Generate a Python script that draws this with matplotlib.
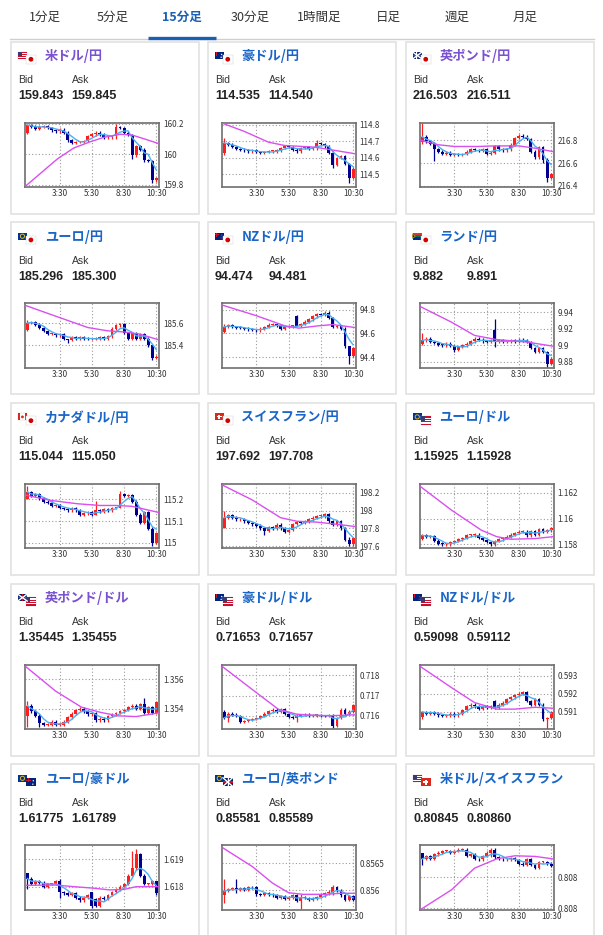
import numpy as np
import pandas as pd
import matplotlib
matplotlib.use('Agg')
import matplotlib.pyplot as plt
from matplotlib.patches import Rectangle, Circle, Polygon

plt.rcParams['font.family'] = ['Noto Sans CJK JP', 'DejaVu Sans']

W, H = 603, 935

# ---- tabs ----
tabs = ['1分足', '5分足', '15分足', '30分足', '1時間足', '日足', '週足', '月足']
tab_x = [44.5, 113, 182, 250, 319, 388, 457, 525]
active_tab = 2

# ---- pairs ----
pair_names = ['米ドル/円', '豪ドル/円', '英ポンド/円',
              'ユーロ/円', 'NZドル/円', 'ランド/円',
              'カナダドル/円', 'スイスフラン/円', 'ユーロ/ドル',
              '英ポンド/ドル', '豪ドル/ドル', 'NZドル/ドル',
              'ユーロ/豪ドル', 'ユーロ/英ポンド', '米ドル/スイスフラン']
bid_text = ['159.843', '114.535', '216.503', '185.296', '94.474', '9.882',
            '115.044', '197.692', '1.15925', '1.35445', '0.71653', '0.59098',
            '1.61775', '0.85581', '0.80845']
ask_text = ['159.845', '114.540', '216.511', '185.300', '94.481', '9.891',
            '115.050', '197.708', '1.15928', '1.35455', '0.71657', '0.59112',
            '1.61789', '0.85589', '0.80860']
visited = [True, False, True, False, False, False, False, False, False,
           True, False, False, False, False, False]
flag_codes = [('us', 'jp'), ('au', 'jp'), ('gb', 'jp'), ('eu', 'jp'), ('nz', 'jp'),
              ('za', 'jp'), ('ca', 'jp'), ('ch', 'jp'), ('eu', 'us'), ('gb', 'us'),
              ('au', 'us'), ('nz', 'us'), ('eu', 'au'), ('eu', 'gb'), ('us', 'ch')]

time_labels = ['3:30', '5:30', '8:30', '10:30']
time_pos = [8, 16, 24, 32]

# ---- 15 min closes ----
usdjpy_close = [160.19, 160.18, 160.165, 160.18, 160.185, 160.17, 160.155, 160.15, 160.16, 160.14,
                160.09, 160.075, 160.08, 160.08, 160.085, 160.12, 160.13, 160.14, 160.13, 160.11,
                160.11, 160.12, 160.175, 160.17, 160.14, 160.125, 159.995, 160.05, 160.03, 159.96,
                159.955, 159.83, 159.843]
usdjpy_open0 = 160.14
usdjpy_hl = {0: (160.13, 160.2), 22: (160.1, 160.2), 26: (159.97, 160.13), 27: (159.98, 160.06),
             31: (159.81, 159.96), 32: (159.815, 159.85)}
usdjpy_ma_x = [-0.5, 3.5, 7.5, 11.5, 15.5, 19, 23, 26, 29, 32.5]
usdjpy_ma_y = [159.79, 159.88, 159.97, 160.04, 160.08, 160.11, 160.13, 160.125, 160.10, 160.07]
usdjpy_ticks = [159.8, 160.0, 160.2]

audjpy_close = [114.69, 114.68, 114.665, 114.655, 114.65, 114.645, 114.64, 114.645, 114.635, 114.63,
                114.635, 114.64, 114.64, 114.645, 114.66, 114.67, 114.665, 114.65, 114.64, 114.66,
                114.665, 114.655, 114.66, 114.69, 114.685, 114.67, 114.63, 114.56, 114.6, 114.61,
                114.565, 114.48, 114.535]
audjpy_open0 = 114.63
audjpy_hl = {0: (114.62, 114.72), 23: (114.65, 114.71), 27: (114.54, 114.64), 31: (114.45, 114.57)}
audjpy_ma_x = [-0.5, 5, 11, 15, 22.5, 26.3, 32.5]
audjpy_ma_y = [114.81, 114.76, 114.695, 114.675, 114.665, 114.65, 114.625]
audjpy_ticks = [114.5, 114.6, 114.7, 114.8]

gbpjpy_close = [216.83, 216.79, 216.77, 216.72, 216.70, 216.68, 216.69, 216.67, 216.675, 216.67,
                216.68, 216.70, 216.72, 216.715, 216.705, 216.72, 216.68, 216.69, 216.75, 216.72,
                216.71, 216.72, 216.76, 216.82, 216.84, 216.83, 216.81, 216.70, 216.65, 216.74,
                216.63, 216.47, 216.503]
gbpjpy_open0 = 216.78
gbpjpy_hl = {0: (216.77, 216.95), 3: (216.62, 216.78), 30: (216.6, 216.75), 31: (216.43, 216.64)}
gbpjpy_ma_x = [-0.5, 4, 8, 14, 18, 24, 28, 32.5]
gbpjpy_ma_y = [216.8, 216.76, 216.745, 216.745, 216.75, 216.75, 216.73, 216.7]
gbpjpy_ticks = [216.4, 216.6, 216.8]

eurjpy_close = [185.6, 185.61, 185.585, 185.56, 185.53, 185.5, 185.5, 185.49, 185.5, 185.46,
                185.45, 185.47, 185.46, 185.47, 185.46, 185.455, 185.455, 185.46, 185.47, 185.46,
                185.48, 185.55, 185.58, 185.59, 185.51, 185.46, 185.51, 185.46, 185.5, 185.46,
                185.40, 185.285, 185.296]
eurjpy_open0 = 185.54
eurjpy_hl = {0: (185.53, 185.63), 10: (185.42, 185.46), 31: (185.27, 185.4)}
eurjpy_ma_x = [-0.5, 8, 15, 20, 24, 28, 32.5]
eurjpy_ma_y = [185.76, 185.65, 185.56, 185.53, 185.52, 185.5, 185.45]
eurjpy_ticks = [185.4, 185.6]

nzdjpy_close = [94.655, 94.67, 94.655, 94.65, 94.645, 94.64, 94.635, 94.63, 94.625, 94.64,
                94.655, 94.675, 94.68, 94.665, 94.64, 94.655, 94.66, 94.66, 94.665, 94.68,
                94.7, 94.72, 94.745, 94.765, 94.76, 94.775, 94.73, 94.655, 94.66, 94.64,
                94.49, 94.41, 94.474]
nzdjpy_open0 = 94.61
nzdjpy_open_fix = {18: 94.75}
nzdjpy_hl = {0: (94.6, 94.68), 18: (94.66, 94.76), 31: (94.34, 94.49)}
nzdjpy_ma_x = [-0.5, 8, 15, 18.5, 23.5, 27, 32.5]
nzdjpy_ma_y = [94.84, 94.75, 94.665, 94.645, 94.665, 94.675, 94.65]
nzdjpy_ticks = [94.4, 94.6, 94.8]

zarjpy_close = [9.906, 9.908, 9.904, 9.903, 9.901, 9.9, 9.902, 9.899, 9.895, 9.898,
                9.9, 9.902, 9.905, 9.908, 9.907, 9.905, 9.904, 9.906, 9.904, 9.906,
                9.904, 9.905, 9.906, 9.905, 9.907, 9.906, 9.904, 9.897, 9.892, 9.897,
                9.892, 9.878, 9.884]
zarjpy_open0 = 9.902
zarjpy_open_fix = {18: 9.918}
zarjpy_hl = {0: (9.9, 9.915), 8: (9.892, 9.9), 18: (9.898, 9.932), 31: (9.874, 9.893)}
zarjpy_ma_x = [-0.5, 7.3, 13, 18.5, 26, 32.5]
zarjpy_ma_y = [9.947, 9.928, 9.912, 9.907, 9.904, 9.899]
zarjpy_ticks = [9.88, 9.9, 9.92, 9.94]

cadjpy_close = [115.235, 115.215, 115.225, 115.205, 115.19, 115.185, 115.17, 115.175, 115.16, 115.155,
                115.15, 115.16, 115.15, 115.13, 115.135, 115.14, 115.13, 115.15, 115.145, 115.155,
                115.15, 115.16, 115.16, 115.225, 115.215, 115.22, 115.19, 115.13, 115.09, 115.14,
                115.065, 115.0, 115.044]
cadjpy_open0 = 115.2
cadjpy_hl = {0: (115.2, 115.26), 17: (115.13, 115.195), 23: (115.16, 115.24), 31: (114.985, 115.07)}
cadjpy_ma_x = [-0.5, 6, 12.4, 18, 22, 26, 32.5]
cadjpy_ma_y = [115.22, 115.195, 115.18, 115.172, 115.172, 115.168, 115.14]
cadjpy_ticks = [115.0, 115.1, 115.2]

chfjpy_close = [197.92, 197.95, 197.92, 197.9, 197.905, 197.88, 197.86, 197.845, 197.83, 197.8,
                197.77, 197.81, 197.8, 197.84, 197.8, 197.76, 197.78, 197.85, 197.87, 197.86,
                197.88, 197.9, 197.92, 197.935, 197.935, 197.96, 197.88, 197.84, 197.88, 197.80,
                197.67, 197.62, 197.692]
chfjpy_open0 = 197.8
chfjpy_hl = {0: (197.8, 198.0), 10: (197.72, 197.8), 31: (197.6, 197.7)}
chfjpy_ma_x = [-0.5, 7, 14, 18, 23, 29, 32.5]
chfjpy_ma_y = [198.29, 198.12, 197.92, 197.88, 197.87, 197.84, 197.82]
chfjpy_ticks = [197.6, 197.8, 198.0, 198.2]

eurusd_close = [1.1587, 1.1586, 1.15865, 1.1583, 1.15805, 1.158, 1.158, 1.1582, 1.15825, 1.1584,
                1.1585, 1.1587, 1.1587, 1.15875, 1.1585, 1.15835, 1.1582, 1.158, 1.15825, 1.1584,
                1.1585, 1.1586, 1.15875, 1.1589, 1.159, 1.159, 1.1587, 1.15905, 1.15875, 1.1592,
                1.159, 1.1591, 1.15925]
eurusd_open0 = 1.15845
eurusd_hl = {17: (1.15785, 1.1583)}
eurusd_ma_x = [-0.5, 7.3, 14.7, 18.5, 22, 28, 32.5]
eurusd_ma_y = [1.1625, 1.16065, 1.1591, 1.1586, 1.1584, 1.15845, 1.1586]
eurusd_ticks = [1.158, 1.16, 1.162]

gbpusd_close = [1.3542, 1.3538, 1.3535, 1.3530, 1.3529, 1.3529, 1.3531, 1.3529, 1.3529, 1.3531,
                1.3534, 1.35365, 1.3539, 1.354, 1.3538, 1.3536, 1.3537, 1.3532, 1.3533, 1.3532,
                1.3535, 1.3536, 1.3537, 1.3538, 1.3539, 1.3541, 1.3542, 1.3540, 1.3543, 1.3537,
                1.3541, 1.3537, 1.35445]
gbpusd_open0 = 1.3535
gbpusd_hl = {0: (1.3527, 1.3545), 3: (1.35275, 1.3536), 29: (1.3536, 1.3547)}
gbpusd_ma_x = [-0.5, 7, 13.4, 18, 22.5, 27, 32.5]
gbpusd_ma_y = [1.3569, 1.3552, 1.3541, 1.35375, 1.3535, 1.35345, 1.3537]
gbpusd_ticks = [1.354, 1.356]

audusd_close = [0.7159, 0.7161, 0.71605, 0.716, 0.7157, 0.71575, 0.7158, 0.71585, 0.7159, 0.71598,
                0.7161, 0.71622, 0.7163, 0.7162, 0.71632, 0.7161, 0.71595, 0.7159, 0.71598, 0.71603,
                0.71605, 0.71598, 0.71602, 0.71604, 0.716, 0.71598, 0.71604, 0.7155, 0.7159, 0.7163,
                0.71608, 0.7162, 0.71653]
audusd_open0 = 0.7162
audusd_hl = {1: (0.7157, 0.7162), 18: (0.7157, 0.7161), 27: (0.7154, 0.7161)}
audusd_ma_x = [-0.5, 7, 13.4, 18, 22, 26, 32.5]
audusd_ma_y = [0.71845, 0.7173, 0.71633, 0.71608, 0.71603, 0.716, 0.71605]
audusd_ticks = [0.716, 0.717, 0.718]

nzdusd_close = [0.5910, 0.5909, 0.5910, 0.5909, 0.5908, 0.59078, 0.5908, 0.5909, 0.5908, 0.5909,
                0.5911, 0.5913, 0.5914, 0.5913, 0.59118, 0.5913, 0.5912, 0.5913, 0.5912, 0.5914,
                0.5915, 0.5917, 0.5918, 0.5919, 0.5920, 0.5921, 0.5916, 0.5914, 0.5917, 0.5914,
                0.5906, 0.59065, 0.59098]
nzdusd_open0 = 0.5907
nzdusd_open_fix = {18: 0.5916, 31: 0.5906}
nzdusd_hl = {30: (0.5905, 0.5915), 31: (0.59005, 0.5907)}
nzdusd_ma_x = [-0.5, 7.3, 13, 18.5, 23, 28, 32.5]
nzdusd_ma_y = [0.5935, 0.59233, 0.59151, 0.59115, 0.59115, 0.59125, 0.5912]
nzdusd_ticks = [0.591, 0.592, 0.593]

euraud_close = [1.6183, 1.6181, 1.6182, 1.61815, 1.6180, 1.6181, 1.6181, 1.6182, 1.6178, 1.61775,
                1.6177, 1.61775, 1.6176, 1.6175, 1.6176, 1.6177, 1.6173, 1.6173, 1.6176, 1.61755,
                1.6177, 1.6178, 1.6179, 1.618, 1.6181, 1.6184, 1.6187, 1.6192, 1.6184, 1.6181,
                1.6181, 1.6182, 1.61775]
euraud_open0 = 1.6185
euraud_open_fix = {16: 1.6178, 17: 1.61755}
euraud_hl = {0: (1.6179, 1.6185), 8: (1.6176, 1.6183), 16: (1.6172, 1.6178),
             26: (1.6184, 1.6193), 27: (1.6186, 1.6194), 32: (1.6177, 1.6182)}
euraud_ma_x = [-0.5, 7, 11.5, 16, 20.5, 24, 27, 32.5]
euraud_ma_y = [1.61805, 1.61806, 1.618, 1.61795, 1.61788, 1.6179, 1.618, 1.618]
euraud_ticks = [1.618, 1.619]

eurgbp_close = [0.85598, 0.85602, 0.85603, 0.856, 0.85603, 0.85601, 0.85606, 0.85605, 0.85592, 0.85591,
                0.85594, 0.85592, 0.8559, 0.85586, 0.85588, 0.85584, 0.85586, 0.8559, 0.8558, 0.85587,
                0.85585, 0.85581, 0.85584, 0.85587, 0.8559, 0.85594, 0.85597, 0.85606, 0.85599, 0.8559,
                0.85582, 0.85588, 0.85581]
eurgbp_open0 = 0.8559
eurgbp_hl = {0: (0.85575, 0.8562), 3: (0.85595, 0.8562), 19: (0.85565, 0.85592), 27: (0.8559, 0.8561)}
eurgbp_ma_x = [-0.5, 7, 12, 16, 19.6, 25, 29, 32.5]
eurgbp_ma_y = [0.8568, 0.85644, 0.85613, 0.85595, 0.85592, 0.85592, 0.85594, 0.85594]
eurgbp_ticks = [0.856, 0.8565]

usdchf_close = [0.8086, 0.8087, 0.8086, 0.80875, 0.8088, 0.80885, 0.80885, 0.8088, 0.80885, 0.8089,
                0.8089, 0.8087, 0.80875, 0.8086, 0.80858, 0.8087, 0.8088, 0.8089, 0.80865, 0.8086,
                0.80858, 0.80858, 0.80862, 0.80857, 0.80845, 0.8084, 0.8086, 0.8084, 0.80832, 0.8085,
                0.8085, 0.80845, 0.80838]
usdchf_open0 = 0.8088
usdchf_hl = {0: (0.8084, 0.8088), 17: (0.80865, 0.80895)}
usdchf_ma_x = [-0.5, 7.3, 13, 18.5, 23, 28, 32.5]
usdchf_ma_y = [0.80695, 0.8076, 0.8083, 0.8086, 0.8087, 0.80868, 0.8086]
usdchf_ticks = [0.807, 0.808]
usdchf_tick_text = ['0.808', '0.808']

charts = [
    dict(c=usdjpy_close, o0=usdjpy_open0, hl=usdjpy_hl, mx=usdjpy_ma_x, my=usdjpy_ma_y,
         t=usdjpy_ticks, ylim=(159.785, 160.207)),
    dict(c=audjpy_close, o0=audjpy_open0, hl=audjpy_hl, mx=audjpy_ma_x, my=audjpy_ma_y,
         t=audjpy_ticks, ylim=(114.424, 114.814)),
    dict(c=gbpjpy_close, o0=gbpjpy_open0, hl=gbpjpy_hl, mx=gbpjpy_ma_x, my=gbpjpy_ma_y,
         t=gbpjpy_ticks, ylim=(216.39, 216.955)),
    dict(c=eurjpy_close, o0=eurjpy_open0, hl=eurjpy_hl, mx=eurjpy_ma_x, my=eurjpy_ma_y,
         t=eurjpy_ticks, ylim=(185.197, 185.78)),
    dict(c=nzdjpy_close, o0=nzdjpy_open0, hl=nzdjpy_hl, mx=nzdjpy_ma_x, my=nzdjpy_ma_y,
         t=nzdjpy_ticks, ylim=(94.31, 94.856), fix=nzdjpy_open_fix),
    dict(c=zarjpy_close, o0=zarjpy_open0, hl=zarjpy_hl, mx=zarjpy_ma_x, my=zarjpy_ma_y,
         t=zarjpy_ticks, ylim=(9.873, 9.951), fix=zarjpy_open_fix),
    dict(c=cadjpy_close, o0=cadjpy_open0, hl=cadjpy_hl, mx=cadjpy_ma_x, my=cadjpy_ma_y,
         t=cadjpy_ticks, ylim=(114.973, 115.272)),
    dict(c=chfjpy_close, o0=chfjpy_open0, hl=chfjpy_hl, mx=chfjpy_ma_x, my=chfjpy_ma_y,
         t=chfjpy_ticks, ylim=(197.573, 198.302)),
    dict(c=eurusd_close, o0=eurusd_open0, hl=eurusd_hl, mx=eurusd_ma_x, my=eurusd_ma_y,
         t=eurusd_ticks, ylim=(1.15769, 1.16269)),
    dict(c=gbpusd_close, o0=gbpusd_open0, hl=gbpusd_hl, mx=gbpusd_ma_x, my=gbpusd_ma_y,
         t=gbpusd_ticks, ylim=(1.35259, 1.35702)),
    dict(c=audusd_close, o0=audusd_open0, hl=audusd_hl, mx=audusd_ma_x, my=audusd_ma_y,
         t=audusd_ticks, ylim=(0.71534, 0.71854)),
    dict(c=nzdusd_close, o0=nzdusd_open0, hl=nzdusd_hl, mx=nzdusd_ma_x, my=nzdusd_ma_y,
         t=nzdusd_ticks, ylim=(0.59005, 0.5936), fix=nzdusd_open_fix),
    dict(c=euraud_close, o0=euraud_open0, hl=euraud_hl, mx=euraud_ma_x, my=euraud_ma_y,
         t=euraud_ticks, ylim=(1.61715, 1.61952), fix=euraud_open_fix),
    dict(c=eurgbp_close, o0=eurgbp_open0, hl=eurgbp_hl, mx=eurgbp_ma_x, my=eurgbp_ma_y,
         t=eurgbp_ticks, ylim=(0.85563, 0.85684)),
    dict(c=usdchf_close, o0=usdchf_open0, hl=usdchf_hl, mx=usdchf_ma_x, my=usdchf_ma_y,
         t=usdchf_ticks, ylim=(0.80695, 0.80904), tt=usdchf_tick_text),
]

UP = '#ff1e1e'
DOWN = '#000090'
MA_SHORT = '#49b0f2'
MA_LONG = '#d94ff0'
LINK = '#1a66c8'
VISITED = '#7a52d1'


def draw_flag(ax, code, x, y, w, h):
    if code == 'us':
        ax.add_patch(Rectangle((x, y), w, h, fc='white', ec='#cccccc', lw=0.3))
        for k in range(4):
            ax.add_patch(Rectangle((x, y + k * h / 3.5), w, h / 7, fc='#c8102e', lw=0))
        ax.add_patch(Rectangle((x, y), w * 0.45, h * 0.55, fc='#3c3b6e', lw=0))
    elif code == 'jp':
        ax.add_patch(Rectangle((x, y), w, h, fc='white', ec='#cccccc', lw=0.3))
        ax.add_patch(Circle((x + w / 2, y + h / 2), h * 0.28, fc='#d30000', lw=0))
    elif code in ('au', 'nz'):
        ax.add_patch(Rectangle((x, y), w, h, fc='#00247d', lw=0))
        ax.add_patch(Rectangle((x, y + h * 0.22), w * 0.5, h * 0.12, fc='#cf142b', lw=0))
        ax.add_patch(Rectangle((x + w * 0.2, y), w * 0.1, h * 0.55, fc='#cf142b', lw=0))
        star = 'white' if code == 'au' else '#cf142b'
        ax.add_patch(Circle((x + w * 0.75, y + h * 0.35), 0.7, fc=star, lw=0))
        ax.add_patch(Circle((x + w * 0.7, y + h * 0.75), 0.7, fc=star, lw=0))
    elif code == 'gb':
        ax.add_patch(Rectangle((x, y), w, h, fc='#012169', lw=0))
        ax.plot([x, x + w], [y, y + h], color='white', lw=1.0)
        ax.plot([x, x + w], [y + h, y], color='white', lw=1.0)
        ax.add_patch(Rectangle((x, y + h * 0.38), w, h * 0.24, fc='white', lw=0))
        ax.add_patch(Rectangle((x + w * 0.4, y), w * 0.2, h, fc='white', lw=0))
        ax.add_patch(Rectangle((x, y + h * 0.43), w, h * 0.14, fc='#c8102e', lw=0))
        ax.add_patch(Rectangle((x + w * 0.45, y), w * 0.1, h, fc='#c8102e', lw=0))
    elif code == 'eu':
        ax.add_patch(Rectangle((x, y), w, h, fc='#003399', lw=0))
        ax.add_patch(Circle((x + w / 2, y + h / 2), h * 0.3, fc='none', ec='#ffcc00', lw=0.6))
    elif code == 'za':
        ax.add_patch(Rectangle((x, y), w, h / 2, fc='#de3831', lw=0))
        ax.add_patch(Rectangle((x, y + h / 2), w, h / 2, fc='#002395', lw=0))
        ax.add_patch(Rectangle((x, y + h * 0.36), w, h * 0.28, fc='#007a4d', lw=0))
        ax.add_patch(Polygon([(x, y + h * 0.1), (x + w * 0.45, y + h / 2), (x, y + h * 0.9)],
                             fc='#007a4d', lw=0))
        ax.add_patch(Polygon([(x, y + h * 0.25), (x + w * 0.3, y + h / 2), (x, y + h * 0.75)],
                             fc='black', ec='#ffb612', lw=0.4))
    elif code == 'ca':
        ax.add_patch(Rectangle((x, y), w, h, fc='white', ec='#cccccc', lw=0.3))
        ax.add_patch(Rectangle((x, y), w * 0.27, h, fc='#d52b1e', lw=0))
        ax.add_patch(Rectangle((x + w * 0.73, y), w * 0.27, h, fc='#d52b1e', lw=0))
        ax.add_patch(Circle((x + w / 2, y + h / 2), h * 0.2, fc='#d52b1e', lw=0))
    elif code == 'ch':
        ax.add_patch(Rectangle((x, y), w, h, fc='#da291c', lw=0))
        ax.add_patch(Rectangle((x + w * 0.42, y + h * 0.2), w * 0.16, h * 0.6, fc='white', lw=0))
        ax.add_patch(Rectangle((x + w * 0.22, y + h * 0.42), w * 0.56, h * 0.16, fc='white', lw=0))


def px_axes(fig, x0, y0, x1, y1):
    return fig.add_axes([x0 / W, 1 - y1 / H, (x1 - x0) / W, (y1 - y0) / H])


def draw_chart(ax, ch):
    closes = np.array(ch['c'], dtype=float)
    n = len(closes)
    opens = np.concatenate([[ch['o0']], closes[:-1]])
    for k, v in ch.get('fix', {}).items():
        opens[k] = v
    lo_lim, hi_lim = ch['ylim']
    rng = hi_lim - lo_lim
    x = np.arange(n)
    up = closes >= opens
    cols = [UP if u else DOWN for u in up]
    top = np.maximum(opens, closes)
    bot = np.minimum(opens, closes)
    hts = np.maximum(top - bot, rng * 0.014)
    highs = top + rng * 0.02
    lows = bot - rng * 0.02
    for k, (l, h) in ch['hl'].items():
        lows[k] = l
        highs[k] = h
    ax.vlines(x, lows, highs, colors=cols, lw=0.9, zorder=2)
    ax.bar(x, hts, bottom=bot, width=0.72, color=cols, linewidth=0, zorder=3)

    ma_short = pd.Series(closes).rolling(4, min_periods=1).mean()
    ax.plot(x, ma_short, color=MA_SHORT, lw=1.0, zorder=4)
    ax.plot(ch['mx'], ch['my'], color=MA_LONG, lw=1.0, zorder=4)

    ax.set_xlim(-0.5, 32.6)
    ax.set_ylim(lo_lim, hi_lim)
    ax.set_xticks(time_pos, time_labels)
    ticks = ch['t']
    labels = ch.get('tt', ['%g' % v for v in ticks])
    ax.yaxis.tick_right()
    ax.set_yticks(ticks, labels)
    ax.tick_params(length=0, labelsize=5.8, colors='#333333', pad=3)
    ax.tick_params(axis='x', pad=1.5)
    ax.grid(True, color='#9a9a9a', lw=0.8, linestyle=(0, (1, 2)))
    ax.set_axisbelow(True)
    for sp in ax.spines.values():
        sp.set_color('#6e6e6e')
        sp.set_linewidth(1.2)


fig = plt.figure(figsize=(W / 100, H / 100), dpi=100)
fig.patch.set_facecolor('white')
ax0 = fig.add_axes([0, 0, 1, 1])
ax0.set_xlim(0, W)
ax0.set_ylim(H, 0)
ax0.axis('off')

# tabs
for i, (lab, tx) in enumerate(zip(tabs, tab_x)):
    if i == active_tab:
        ax0.text(tx, 17, lab, ha='center', va='center', fontsize=9, color='#1a5fb4',
                 fontweight='bold')
    else:
        ax0.text(tx, 17, lab, ha='center', va='center', fontsize=9, color='#333333')
ax0.plot([10, 594], [38.5, 38.5], color='#cfcfcf', lw=1.0)
ax0.plot([148, 216], [37.6, 37.6], color='#1a5fb4', lw=2.4, solid_capstyle='butt')

card_x = [10.7, 207.5, 405.5]
card_w = 188.5
card_h = 172
row_pitch = 180.7

for i, name in enumerate(pair_names):
    r, c = divmod(i, 3)
    cx = card_x[c]
    cy = 41.5 + r * row_pitch
    ax0.add_patch(Rectangle((cx, cy), card_w, card_h, fc='white', ec='#e2e2e2', lw=1.2))
    f1, f2 = flag_codes[i]
    draw_flag(ax0, f1, cx + 7, cy + 10.5, 9.5, 7)
    draw_flag(ax0, f2, cx + 15.5, cy + 13.5, 9.5, 8.5)
    ax0.text(cx + 34, cy + 14.5, name, ha='left', va='center', fontsize=9.5,
             fontweight='bold', color=VISITED if visited[i] else LINK)
    ax0.text(cx + 7.5, cy + 38.5, 'Bid', ha='left', va='center', fontsize=7.5,
             family='Liberation Sans', color='#333333')
    ax0.text(cx + 61, cy + 38.5, 'Ask', ha='left', va='center', fontsize=7.5,
             family='Liberation Sans', color='#333333')
    ax0.text(cx + 7.5, cy + 54.5, bid_text[i], ha='left', va='center', fontsize=9,
             family='Liberation Sans', fontweight='bold', color='#222222')
    ax0.text(cx + 61, cy + 54.5, ask_text[i], ha='left', va='center', fontsize=9,
             family='Liberation Sans', fontweight='bold', color='#222222')

    ax = px_axes(fig, cx + 14.7, cy + 81, cx + 148, cy + 145.5)
    draw_chart(ax, charts[i])

fig.savefig('out.png', dpi=100, facecolor='white')
